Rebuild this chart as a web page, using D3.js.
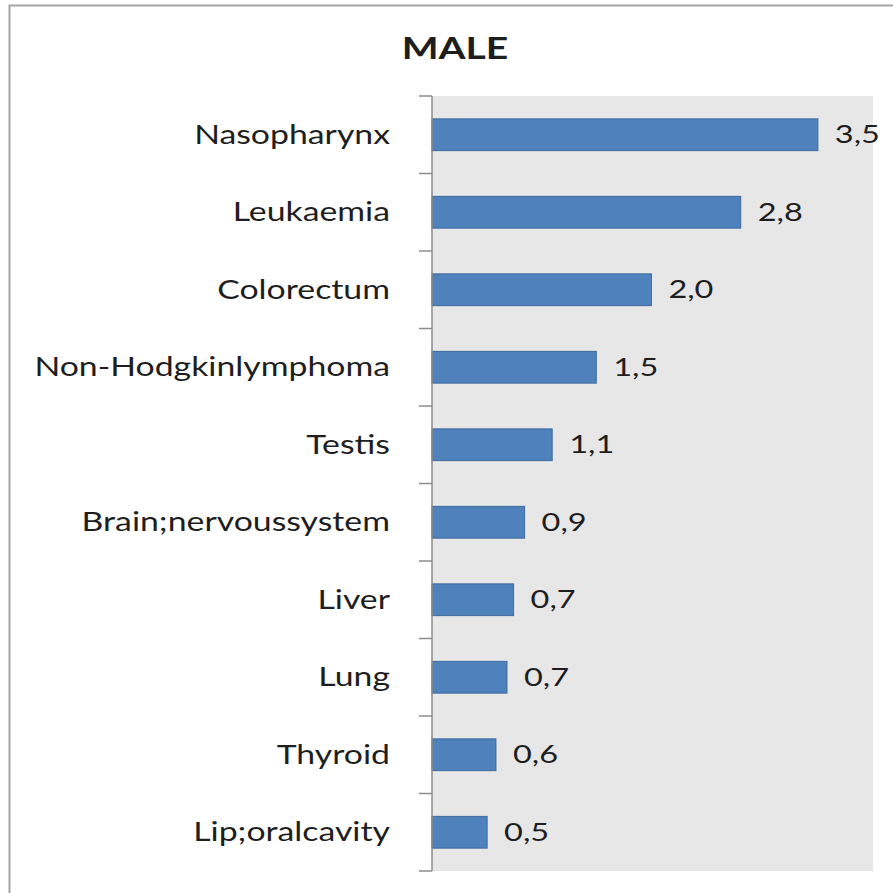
<!DOCTYPE html>
<html>
<head>
<meta charset="utf-8">
<script src="https://cdn.jsdelivr.net/npm/d3@7"></script>
<style>
  body { margin: 0; background: #fff; }
  text { font-family: Lato, "Open Sans", sans-serif; fill: #1e1e1e; }
</style>
</head>
<body>
<script>
const categories = ["Nasopharynx", "Leukaemia", "Colorectum", "Non-Hodgkinlymphoma", "Testis",
  "Brain;nervoussystem", "Liver", "Lung", "Thyroid", "Lip;oralcavity"];
// bar lengths (labels are rounded)
const values = [3.5, 2.8, 1.99, 1.49, 1.09, 0.84, 0.74, 0.68, 0.58, 0.5];
const labels = ["3,5", "2,8", "2,0", "1,5", "1,1", "0,9", "0,7", "0,7", "0,6", "0,5"];

const width = 893, height = 893;
const margin = { top: 96, right: 20, bottom: 22, left: 432 };
const sx = 1.3; // text in the original is stretched sideways

const svg = d3.create("svg")
  .attr("width", width)
  .attr("height", height);

// outer frame
svg.append("rect")
  .attr("x", 9.5).attr("y", 5.5)
  .attr("width", width + 10).attr("height", height + 10)
  .attr("fill", "none")
  .attr("stroke", "#a6a6a6")
  .attr("stroke-width", 2);

const x = d3.scaleLinear()
  .domain([0, 4])
  .range([margin.left, width - margin.right]);

const y = d3.scaleBand()
  .domain(categories)
  .range([margin.top, height - margin.bottom])
  .paddingInner(0.59)
  .paddingOuter(0.295);

// plot background
svg.append("rect")
  .attr("x", x(0)).attr("y", margin.top)
  .attr("width", x(4) - x(0))
  .attr("height", height - margin.bottom - margin.top)
  .attr("fill", "#e7e7e7");

svg.append("g")
  .selectAll("rect")
  .data(values)
  .join("rect")
  .attr("x", x(0))
  .attr("y", (d, i) => y(categories[i]))
  .attr("width", d => x(d) - x(0))
  .attr("height", y.bandwidth())
  .attr("fill", "#4f81bd")
  .attr("stroke", "#3d6a9c")
  .attr("stroke-width", 1);

// axis with ticks on the band boundaries
const bounds = d3.range(categories.length + 1).map(i => margin.top + i * (height - margin.bottom - margin.top) / categories.length);
const ax = svg.append("g").attr("stroke", "#8c8c8c").attr("stroke-width", 1.5);
ax.append("line")
  .attr("x1", x(0)).attr("x2", x(0))
  .attr("y1", margin.top).attr("y2", height - margin.bottom);
ax.selectAll("line.tick")
  .data(bounds)
  .join("line")
  .attr("class", "tick")
  .attr("x1", x(0) - 13).attr("x2", x(0))
  .attr("y1", d => d).attr("y2", d => d);

// category labels
svg.append("g")
  .attr("transform", `scale(${sx},1)`)
  .selectAll("text")
  .data(categories)
  .join("text")
  .attr("x", (x(0) - 42) / sx)
  .attr("y", d => y(d) + y.bandwidth() / 2)
  .attr("dy", "0.35em")
  .attr("text-anchor", "end")
  .attr("font-size", 26)
  .text(d => d);

// value labels
svg.append("g")
  .attr("transform", `scale(${sx},1)`)
  .selectAll("text")
  .data(values)
  .join("text")
  .attr("x", d => (x(d) + 17) / sx)
  .attr("y", (d, i) => y(categories[i]) + y.bandwidth() / 2)
  .attr("dy", "0.35em")
  .attr("font-size", 25)
  .text((d, i) => labels[i]);

svg.append("text")
  .attr("transform", `scale(${sx},1)`)
  .attr("x", 455 / sx)
  .attr("y", 59)
  .attr("text-anchor", "middle")
  .attr("font-size", 30)
  .attr("font-weight", "bold")
  .text("MALE");

document.body.appendChild(svg.node());
</script>
</body>
</html>
